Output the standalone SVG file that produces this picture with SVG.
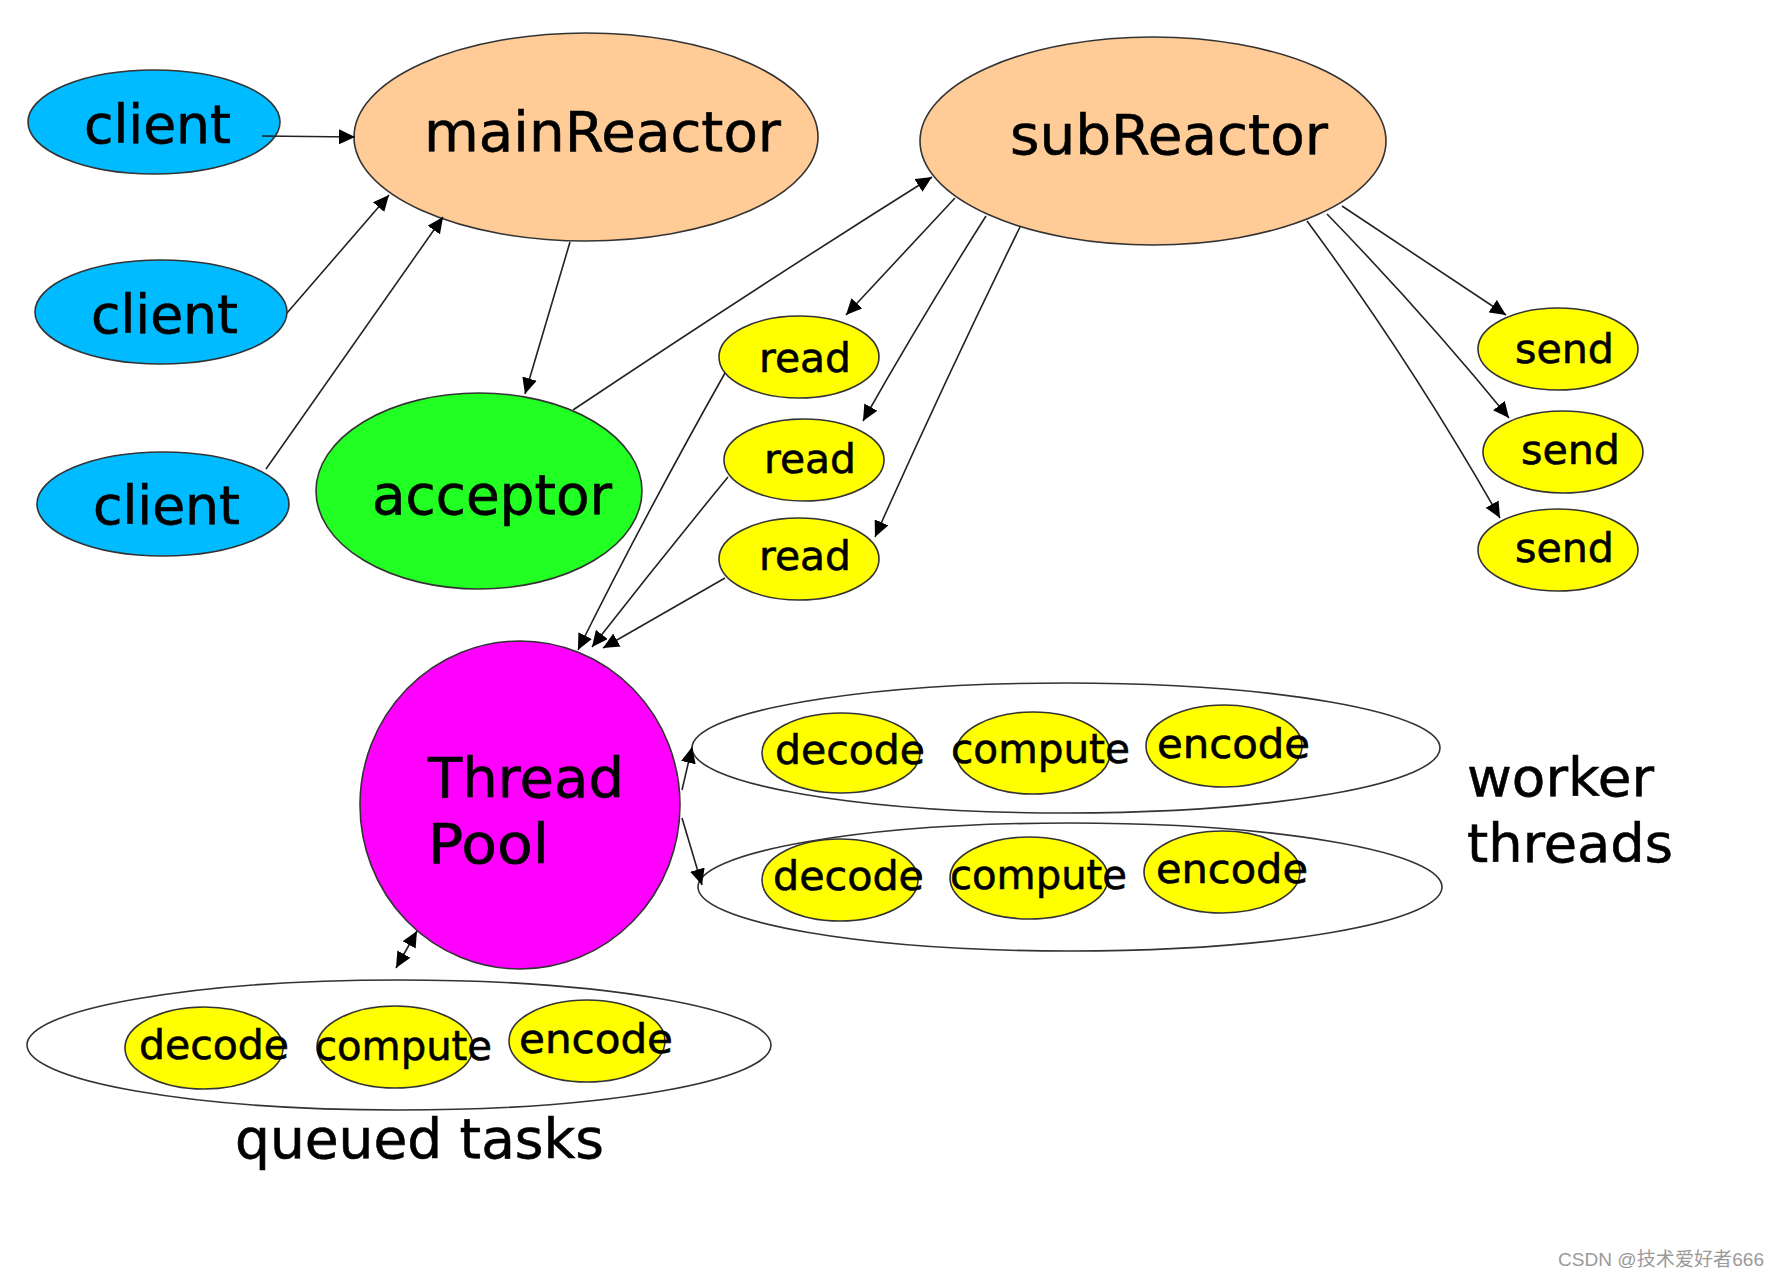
<svg xmlns="http://www.w3.org/2000/svg" width="1774" height="1274" viewBox="0 0 1774 1274">
<style>
  .n { stroke: #333; stroke-width: 1.6; }
  .client { fill: #00BBFF; }
  .reactor { fill: #FFCB96; }
  .acc { fill: #22FF22; }
  .pool { fill: #FF00FF; }
  .y { fill: #FFFF00; }
  .grp { fill: none; stroke: #333; stroke-width: 1.6; }
  text { font-family: "DejaVu Sans", "Liberation Sans", sans-serif; fill: #000; stroke: #000; stroke-width: 0.6; }
  .wm { font-family: "Liberation Sans", "Noto Sans CJK SC", sans-serif; fill: #9a9a9a; stroke: none; }
  .e { stroke: #222; stroke-width: 1.6; fill: none; marker-end: url(#ah); }
</style>
<defs>
  <marker id="ah" markerUnits="userSpaceOnUse" markerWidth="17" markerHeight="15" refX="16" refY="7.5" orient="auto-start-reverse">
    <path d="M0,0 L16,7.5 L0,15 Z" fill="#000"/>
  </marker>
</defs>
<rect width="1774" height="1274" fill="#fff"/>

<g id="client1"><ellipse class="n client" cx="154" cy="122" rx="126" ry="52"/><text x="84" y="143" font-size="53" textLength="147" lengthAdjust="spacingAndGlyphs">client</text></g>
<g id="client2"><ellipse class="n client" cx="161" cy="312" rx="126" ry="52"/><text x="91" y="333" font-size="53" textLength="147" lengthAdjust="spacingAndGlyphs">client</text></g>
<g id="client3"><ellipse class="n client" cx="163" cy="504" rx="126" ry="52"/><text x="93" y="524" font-size="53" textLength="147" lengthAdjust="spacingAndGlyphs">client</text></g>

<g id="mainReactor"><ellipse class="n reactor" cx="586" cy="137" rx="232" ry="104"/><text x="424" y="151" font-size="56" textLength="357" lengthAdjust="spacingAndGlyphs">mainReactor</text></g>
<g id="subReactor"><ellipse class="n reactor" cx="1153" cy="141" rx="233" ry="104"/><text x="1010" y="154" font-size="56" textLength="318" lengthAdjust="spacingAndGlyphs">subReactor</text></g>
<g id="acceptor"><ellipse class="n acc" cx="479" cy="491" rx="163" ry="98"/><text x="372" y="514" font-size="55" textLength="240" lengthAdjust="spacingAndGlyphs">acceptor</text></g>

<g id="read1"><ellipse class="n y" cx="799" cy="357" rx="80" ry="41"/><text x="759" y="372" font-size="41" textLength="92" lengthAdjust="spacingAndGlyphs">read</text></g>
<g id="read2"><ellipse class="n y" cx="804" cy="460" rx="80" ry="41"/><text x="764" y="473" font-size="41" textLength="92" lengthAdjust="spacingAndGlyphs">read</text></g>
<g id="read3"><ellipse class="n y" cx="799" cy="559" rx="80" ry="41"/><text x="759" y="570" font-size="41" textLength="92" lengthAdjust="spacingAndGlyphs">read</text></g>

<g id="send1"><ellipse class="n y" cx="1558" cy="349" rx="80" ry="41"/><text x="1515" y="363" font-size="41" textLength="99" lengthAdjust="spacingAndGlyphs">send</text></g>
<g id="send2"><ellipse class="n y" cx="1563" cy="452" rx="80" ry="41"/><text x="1521" y="464" font-size="41" textLength="99" lengthAdjust="spacingAndGlyphs">send</text></g>
<g id="send3"><ellipse class="n y" cx="1558" cy="550" rx="80" ry="41"/><text x="1515" y="562" font-size="41" textLength="99" lengthAdjust="spacingAndGlyphs">send</text></g>

<g id="threadPool"><ellipse class="n pool" cx="520" cy="805" rx="160" ry="164"/>
  <text x="428" y="797" font-size="56" textLength="196" lengthAdjust="spacingAndGlyphs">Thread</text>
  <text x="428" y="863" font-size="56" textLength="121" lengthAdjust="spacingAndGlyphs">Pool</text></g>

<g id="worker1">
  <ellipse class="grp" cx="1066" cy="748" rx="374" ry="65"/>
  <ellipse class="n y" cx="841" cy="753" rx="79" ry="40"/><text x="775" y="764" font-size="41" textLength="150" lengthAdjust="spacingAndGlyphs">decode</text>
  <ellipse class="n y" cx="1033" cy="753" rx="77" ry="41"/><text x="951" y="763" font-size="41" textLength="179" lengthAdjust="spacingAndGlyphs">compute</text>
  <ellipse class="n y" cx="1224" cy="746" rx="78" ry="41"/><text x="1157" y="758" font-size="41" textLength="153" lengthAdjust="spacingAndGlyphs">encode</text>
</g>
<g id="worker2">
  <ellipse class="grp" cx="1070" cy="887" rx="372" ry="64"/>
  <ellipse class="n y" cx="840" cy="880" rx="78" ry="41"/><text x="773" y="890" font-size="41" textLength="151" lengthAdjust="spacingAndGlyphs">decode</text>
  <ellipse class="n y" cx="1029" cy="878" rx="79" ry="41"/><text x="950" y="889" font-size="41" textLength="177" lengthAdjust="spacingAndGlyphs">compute</text>
  <ellipse class="n y" cx="1222" cy="872" rx="78" ry="41"/><text x="1156" y="883" font-size="41" textLength="152" lengthAdjust="spacingAndGlyphs">encode</text>
</g>
<g id="queued">
  <ellipse class="grp" cx="399" cy="1045" rx="372" ry="65"/>
  <ellipse class="n y" cx="204" cy="1048" rx="79" ry="41"/><text x="139" y="1059" font-size="41" textLength="150" lengthAdjust="spacingAndGlyphs">decode</text>
  <ellipse class="n y" cx="395" cy="1047" rx="78" ry="41"/><text x="315" y="1060" font-size="41" textLength="177" lengthAdjust="spacingAndGlyphs">compute</text>
  <ellipse class="n y" cx="587" cy="1041" rx="78" ry="41"/><text x="519" y="1053" font-size="41" textLength="154" lengthAdjust="spacingAndGlyphs">encode</text>
</g>

<g id="labels">
  <text x="235" y="1158" font-size="55" textLength="369" lengthAdjust="spacingAndGlyphs">queued tasks</text>
  <text x="1467" y="796" font-size="54" textLength="187" lengthAdjust="spacingAndGlyphs">worker</text>
  <text x="1467" y="862" font-size="54" textLength="206" lengthAdjust="spacingAndGlyphs">threads</text>
  <text class="wm" x="1558" y="1266" font-size="19" textLength="206" lengthAdjust="spacingAndGlyphs">CSDN @技术爱好者666</text>
</g>

<g id="connectors">
  <path class="e" d="M262,136 L355,137"/>
  <path class="e" d="M287,313 L389,195"/>
  <path class="e" d="M266,469 L443,217"/>
  <path class="e" d="M570,242 L525,394"/>
  <path class="e" d="M573,410 Q760,285 932,177"/>
  <path class="e" d="M955,198 L846,315"/>
  <path class="e" d="M986,216 Q920,320 863,421"/>
  <path class="e" d="M1020,227 Q945,380 875,537"/>
  <path class="e" d="M1342,206 L1506,315"/>
  <path class="e" d="M1327,214 Q1425,315 1509,418"/>
  <path class="e" d="M1307,221 Q1410,360 1500,518"/>
  <path class="e" d="M725,373 Q645,515 578,650"/>
  <path class="e" d="M728,477 Q660,560 592,647"/>
  <path class="e" d="M725,578 L603,648"/>
  <path class="e" d="M682,790 L692,747"/>
  <path class="e" d="M682,818 L702,885"/>
  <path class="e" d="M396,968 L417,931" style="marker-start:url(#ah)"/>
</g>
</svg>
